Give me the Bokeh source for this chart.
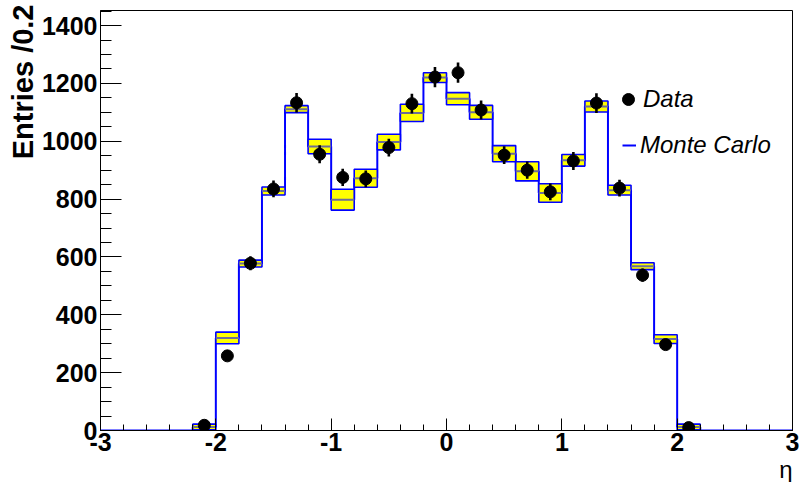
import math
from bokeh.plotting import figure
from bokeh.models import (Range1d, SingleIntervalTicker, Title, Legend, LegendItem,
                          ColumnDataSource, CustomJSTickFormatter)
from bokeh.embed import file_html
from bokeh.resources import INLINE

# ---- data (bins of 0.2 in eta) ----
edges = [-3.0, -2.8, -2.6, -2.4, -2.2, -2.0, -1.8, -1.6, -1.4, -1.2, -1.0,
         -0.8, -0.6, -0.4, -0.2, 0.0, 0.2, 0.4, 0.6, 0.8, 1.0,
         1.2, 1.4, 1.6, 1.8, 2.0, 2.2, 2.4, 2.6, 2.8, 3.0]
mc = [0, 0, 0, 0, 12, 320, 577, 828, 1111, 982, 798, 872, 997, 1098, 1220,
      1147, 1100, 957, 896, 821, 934, 1120, 831, 568, 316, 12, 0, 0, 0, 0]
mc_err = [0, 0, 0, 0, 10, 20, 12, 14, 12, 25, 36, 31, 27, 30, 17,
          21, 24, 28, 33, 32, 20, 19, 17, 12, 15, 10, 0, 0, 0, 0]
data = [0, 0, 0, 0, 18, 258, 578, 835, 1133, 955, 875, 870, 978, 1130, 1222,
        1237, 1108, 952, 900, 825, 932, 1132, 838, 537, 297, 10, 0, 0, 0, 0]
data_err = [0, 0, 0, 0, 4, 16, 24, 29, 34, 31, 30, 29, 31, 34, 35,
            35, 33, 31, 30, 29, 31, 34, 29, 23, 17, 3, 0, 0, 0, 0]

nb = len(mc)
lo = edges[:-1]
hi = edges[1:]
centers = [(a + b) / 2 for a, b in zip(lo, hi)]

box_idx = [i for i in range(nb) if mc[i] > 0]
box_src = ColumnDataSource(dict(
    left=[lo[i] for i in box_idx], right=[hi[i] for i in box_idx],
    bottom=[mc[i] - mc_err[i] for i in box_idx], top=[mc[i] + mc_err[i] for i in box_idx],
    y=[mc[i] for i in box_idx]))

pt_idx = [i for i in range(nb) if data[i] > 0]
pt_src = ColumnDataSource(dict(
    x=[centers[i] for i in pt_idx], y=[data[i] for i in pt_idx],
    ylo=[data[i] - data_err[i] for i in pt_idx], yhi=[data[i] + data_err[i] for i in pt_idx]))

FONT = "Liberation Sans"

p = figure(width=800, height=482, output_backend="svg", toolbar_location=None,
           x_range=Range1d(-3, 3), y_range=Range1d(0, 1452),
           min_border_left=100, min_border_right=8, min_border_top=10, min_border_bottom=52)
p.grid.visible = False
p.outline_line_color = "black"
p.outline_line_width = 1

# MC step histogram
step_r = p.step(x=edges, y=mc + [mc[-1]], mode="after", line_color="#0000ff", line_width=2)
# MC error boxes
p.quad(left="left", right="right", bottom="bottom", top="top", source=box_src,
       fill_color="#ffff00", line_color="#0000ff", line_width=1.6)
p.segment(x0="left", x1="right", y0="y", y1="y", source=box_src,
          line_color="#6e6e96", line_width=2)
# data
p.segment(x0="x", x1="x", y0="ylo", y1="yhi", source=pt_src, line_color="black", line_width=2.6)
pts = p.scatter(x="x", y="y", source=pt_src, size=12, marker="circle",
                fill_color="black", line_color="black")

# axes
fmt = CustomJSTickFormatter(code="return tick.toFixed(0);")
xa = p.xaxis[0]
xa.ticker = SingleIntervalTicker(interval=1, num_minor_ticks=5)
xa.major_tick_in = 12
xa.major_tick_out = 0
xa.minor_tick_in = 6
xa.minor_tick_out = 0
xa.major_label_standoff = 2
ya = p.yaxis[0]
ya.ticker = SingleIntervalTicker(interval=200, num_minor_ticks=4)
ya.major_tick_in = 21
ya.major_tick_out = 0
ya.minor_tick_in = 11
ya.minor_tick_out = 0
ya.major_label_standoff = 3
for ax in (xa, ya):
    ax.formatter = fmt
    ax.axis_line_color = "black"
    ax.major_tick_line_color = "black"
    ax.minor_tick_line_color = "black"
    ax.major_label_text_font = FONT
    ax.major_label_text_font_style = "bold"
    ax.major_label_text_font_size = "25px"
    ax.major_label_text_color = "black"

# axis titles (ROOT style: aligned to the axis end)
p.add_layout(Title(text="Entries /0.2", align="right", text_font=FONT,
                   text_font_style="bold", text_font_size="29px", text_color="black",
                   standoff=0, offset=-6), "left")
p.add_layout(Title(text="η", align="right", text_font=FONT, text_font_style="normal",
                   text_font_size="24px", text_color="black", standoff=0), "below")

leg_style = dict(border_line_color=None, background_fill_alpha=0,
                 label_text_font=FONT, label_text_font_style="italic",
                 label_text_font_size="24px", label_text_color="black",
                 label_height=20, padding=0, margin=0)
leg_data = Legend(items=[LegendItem(label="Data", renderers=[pts])],
                  location=(513, 316), glyph_width=30, glyph_height=30,
                  label_standoff=-7, **leg_style)
leg_mc = Legend(items=[LegendItem(label="Monte Carlo", renderers=[step_r])],
                location=(522, 271), glyph_width=14, glyph_height=20,
                label_standoff=4, **leg_style)
p.add_layout(leg_data)
p.add_layout(leg_mc)

open("out.html", "w").write(file_html(p, INLINE))
